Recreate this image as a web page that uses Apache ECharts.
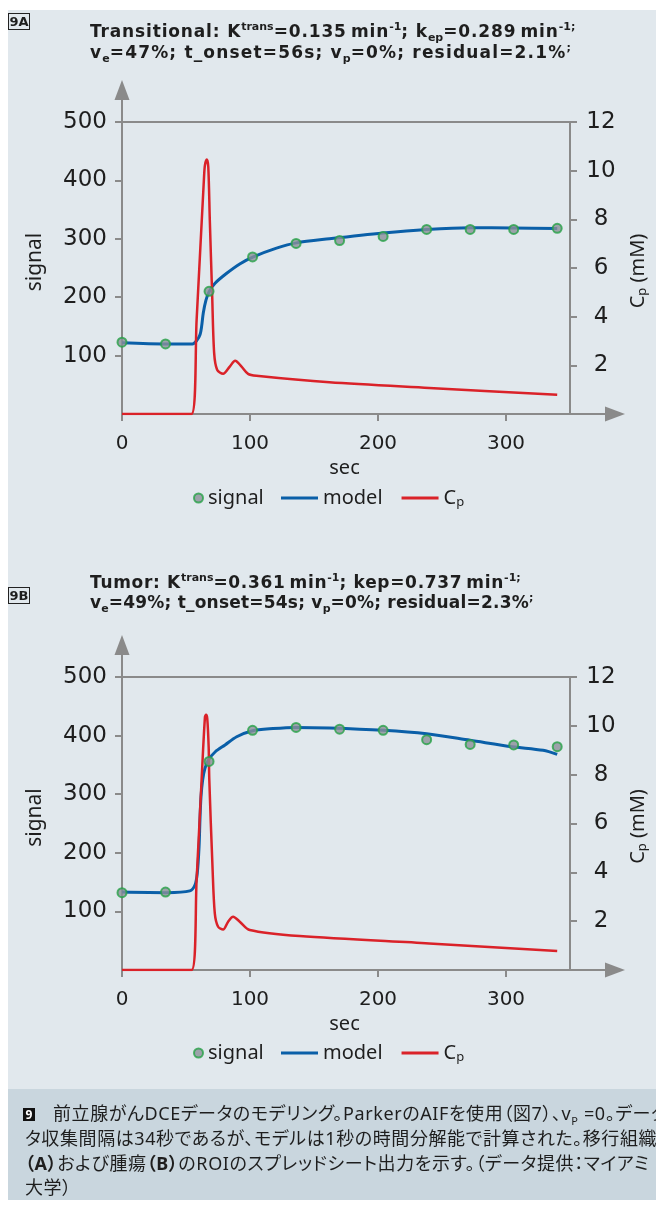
<!DOCTYPE html>
<html>
<head>
<meta charset="utf-8">
<script src="https://cdn.jsdelivr.net/npm/echarts@6/dist/echarts.min.js"></script>
<style>
  html, body { margin: 0; padding: 0; width: 656px; height: 1210px; overflow: hidden; background: #fff;
    font-family: "Noto Sans", "Noto Sans CJK JP", sans-serif; color: #1e1e1e; }
  .panel { position: absolute; left: 8px; top: 10px; width: 648px; height: 1079px; background: #e1e8ed; }
  .caption { position: absolute; left: 8px; top: 1089px; width: 648px; height: 111px; background: #c9d6de; }
  #chart { position: absolute; left: 0; top: 0; width: 656px; height: 1210px; }
  .tag { position: absolute; left: 8px; width: 22px; height: 17px; border: 1px solid #222; box-sizing: border-box;
    font-family: "DejaVu Sans"; font-weight: bold; font-size: 13px; line-height: 15px; text-align: center; }
  .title { position: absolute; left: 90px; font-family: "DejaVu Sans"; font-weight: bold; font-size: 17px;
    line-height: 22px; white-space: nowrap; }
  .title sup, .title sub { font-size: 11px; line-height: 0; letter-spacing: 0; }
  .cap { position: absolute; font-size: 18px; line-height: 24px; white-space: nowrap;
    font-feature-settings: "palt"; letter-spacing: 0.6px; }
  .cap sub { font-size: 11px; line-height: 0; }
  .num { display: inline-block; width: 12px; height: 13px; background: #111; color: #fff; font-weight: bold;
    font-size: 12px; line-height: 13px; text-align: center; vertical-align: 1px; margin-right: 18px; letter-spacing: 0; }
</style>
</head>
<body>
<div class="panel"></div>
<div class="caption"></div>
<div id="chart"></div>

<div class="tag" style="top:13px">9A</div>
<div class="title" style="top:20px;letter-spacing:0.84px">Transitional: K<sup>trans</sup>=0.135&thinsp;min<sup>-1</sup>; k<sub>ep</sub>=0.289&thinsp;min<sup>-1;</sup></div>
<div class="title" style="top:41px;letter-spacing:1.17px">v<sub>e</sub>=47%; t_onset=56s; v<sub>p</sub>=0%; residual=2.1%<sup>;</sup></div>

<div class="tag" style="top:587px">9B</div>
<div class="title" style="top:571px;letter-spacing:0.68px">Tumor: K<sup>trans</sup>=0.361&thinsp;min<sup>-1</sup>; kep=0.737&thinsp;min<sup>-1;</sup></div>
<div class="title" style="top:591px;letter-spacing:0.21px">v<sub>e</sub>=49%; t_onset=54s; v<sub>p</sub>=0%; residual=2.3%<sup>;</sup></div>

<div class="cap" style="left:23px;top:1101px"><span class="num">9</span>前立腺がんDCEデータのモデリング。ParkerのAIFを使用（図7）、v<sub>P</sub> =0。データ</div>
<div class="cap" style="left:25px;top:1126px">タ収集間隔は34秒であるが、モデルは1秒の時間分解能で計算された。移行組織</div>
<div class="cap" style="left:25px;top:1151px"><b>（A）</b>および腫瘍<b>（B）</b>のROIのスプレッドシート出力を示す。（データ提供：マイアミ</div>
<div class="cap" style="left:25px;top:1175px">大学）</div>

<script>
  // measured signal, one sample every 34 s
  const sampleSec = [0, 34, 68, 102, 136, 170, 204, 238, 272, 306, 340]
  const signalA = [123, 120, 210, 269, 292, 297, 304, 316, 316, 316, 318]
  const signalB = [132, 133, 356, 409, 414, 411, 409, 393, 385, 384, 381]

  // model curves
  const modelSecA = [0, 35, 55, 58.5, 61, 62.2, 63.5, 65.6, 68.2, 72.7, 81.8, 92, 102.6, 120.7, 136.3, 162, 204, 238, 272, 305, 340]
  const modelA = [122, 120, 120, 126, 136, 150, 173, 195, 210, 224, 241, 257, 269, 284, 293, 300, 310, 316, 319, 318.5, 317.5]
  const modelSecB = [0, 35, 53, 57, 58.8, 60.2, 60.9, 61.7, 63, 64.8, 67.4, 72.7, 80.5, 89.6, 101.3, 118, 136, 162, 204, 238, 272, 305, 329, 340]
  const modelB = [133, 132, 135, 145, 165, 210, 256, 295, 324, 344, 358, 372, 384, 398, 408, 412, 414, 413, 409, 403, 392, 381, 375, 368]

  // arterial input Cp (mM)
  const cpSecA = [0, 54.3, 58.3, 64.1, 64.8, 66.2, 67.4, 68.6, 70.4, 72, 74.3, 79, 84.2, 88.4, 93.4, 98.5, 105, 162, 240, 340]
  const cpA = [0, 0, 3.87, 9.75, 10.23, 10.46, 10.16, 7.97, 4.96, 2.5, 1.82, 1.65, 1.95, 2.19, 1.95, 1.65, 1.57, 1.3, 1.07, 0.79]
  const cpSecB = [0, 54.4, 58.3, 62.2, 64.8, 65.7, 66.6, 67.7, 68.2, 70.7, 72.5, 75.1, 79, 82.9, 86.8, 92, 99.8, 138.8, 240, 340]
  const cpB = [0, 0, 3.7, 7.8, 10.36, 10.45, 10.3, 9.14, 7.8, 4.23, 2.32, 1.77, 1.66, 1.98, 2.18, 1.98, 1.64, 1.39, 1.09, 0.78]

  const secTicks = [0, 100, 200, 300]
  const signalTicks = [100, 200, 300, 400, 500]
  const cpTicks = [2, 4, 6, 8, 10, 12]

  const axisGray = '#8a8a8a'
  const textColor = '#1e1e1e'
  const font = 'Noto Sans'
  const numFont = 'DejaVu Sans'
  const blue = '#0a5fa8'
  const red = '#da2229'

  // plot box in px; the outer axes run on to the arrow heads
  const plotLeft = 122
  const plotRight = 570
  const arrowEndX = 615
  const secEnd = 350
  const signalEnd = 500
  const cpEnd = 12
  const panels = [
    { top: 122, bottom: 414, arrowEndY: 90, legendTop: 488,
      sec: modelSecA, model: modelA, cpSec: cpSecA, cp: cpA, signal: signalA },
    { top: 677, bottom: 970, arrowEndY: 645, legendTop: 1043,
      sec: modelSecB, model: modelB, cpSec: cpSecB, cp: cpB, signal: signalB }
  ]

  const pair = (xs, ys) => xs.map((x, i) => [x, ys[i]])

  const rich = {
    m: { fontSize: 20, lineHeight: 22, color: textColor, fontFamily: font },
    s: { fontSize: 13, lineHeight: 10, verticalAlign: 'bottom', color: textColor, fontFamily: font }
  }
  const gridLine = { color: axisGray, width: 2 }
  const arrowLine = { show: true, onZero: false, lineStyle: gridLine, symbol: ['none', 'triangle'], symbolSize: [15, 20] }

  const grid = []
  const xAxis = []
  const yAxis = []
  const series = []
  const legend = []

  panels.forEach((p, i) => {
    const ratio = (p.bottom - p.arrowEndY) / (p.bottom - p.top)
    const outer = 2 * i
    const inner = 2 * i + 1

    // outer grid: signal axes with arrows
    grid.push({
      left: plotLeft, top: p.arrowEndY, width: arrowEndX - plotLeft, height: p.bottom - p.arrowEndY,
      containLabel: false, outerBoundsMode: 'none'
    })
    // inner grid: the plot box, carries the Cp axis and the top border
    grid.push({
      left: plotLeft, top: p.top, width: plotRight - plotLeft, height: p.bottom - p.top,
      containLabel: false, outerBoundsMode: 'none'
    })

    xAxis.push({
      gridIndex: outer, type: 'value', min: 0,
      max: secEnd * (arrowEndX - plotLeft) / (plotRight - plotLeft),
      axisLine: arrowLine,
      axisTick: { show: true, length: 7, customValues: secTicks, lineStyle: gridLine },
      axisLabel: { customValues: secTicks, fontSize: 20, color: textColor, fontFamily: numFont, margin: 20 },
      splitLine: { show: false },
      name: 'sec', nameLocation: 'middle', nameGap: 44, nameMoveOverlap: false,
      nameTextStyle: { fontSize: 20, color: textColor, fontFamily: font, padding: [0, 48, 0, 0] }
    })
    xAxis.push({
      gridIndex: inner, type: 'value', min: 0, max: secEnd, position: 'top',
      axisLine: { show: true, onZero: false, lineStyle: gridLine },
      axisTick: { show: false }, axisLabel: { show: false }, splitLine: { show: false }
    })

    yAxis.push({
      gridIndex: outer, type: 'value', min: 0, max: signalEnd * ratio, position: 'left',
      axisLine: arrowLine,
      axisTick: { show: true, length: 7, customValues: signalTicks, lineStyle: gridLine },
      axisLabel: { customValues: signalTicks, fontSize: 23, color: textColor, fontFamily: numFont, margin: 15 },
      splitLine: { show: false },
      name: 'signal', nameLocation: 'middle', nameGap: 76, nameMoveOverlap: false,
      nameTextStyle: { fontSize: 21, color: textColor, fontFamily: font, padding: [0, 20, 0, 0] }
    })
    yAxis.push({
      gridIndex: inner, type: 'value', min: 0, max: cpEnd, position: 'right',
      axisLine: { show: true, onZero: false, lineStyle: gridLine },
      axisTick: { show: true, length: 7, customValues: cpTicks, lineStyle: gridLine },
      axisLabel: { customValues: cpTicks, fontSize: 23, color: textColor, fontFamily: numFont, margin: 31, align: 'center' },
      splitLine: { show: false },
      name: '{m|C}{s|p}{m| (mM)}', nameLocation: 'middle', nameGap: 57, nameMoveOverlap: false,
      nameTextStyle: { rich, padding: [0, 6, 0, 0] }
    })

    series.push({
      name: 'model', type: 'line', xAxisIndex: outer, yAxisIndex: outer,
      data: pair(p.sec, p.model), symbol: 'none', smooth: 0.3,
      lineStyle: { color: blue, width: 3 }, itemStyle: { color: blue }
    })
    series.push({
      name: 'Cp', type: 'line', xAxisIndex: inner, yAxisIndex: inner,
      data: pair(p.cpSec, p.cp), symbol: 'none', smooth: 0.3,
      lineStyle: { color: red, width: 2.5 }, itemStyle: { color: red }
    })
    series.push({
      name: 'signal', type: 'scatter', xAxisIndex: outer, yAxisIndex: outer,
      data: pair(sampleSec, p.signal), symbolSize: 9, z: 5,
      itemStyle: { color: '#8b9099', borderColor: '#26a146', borderWidth: 2 }
    })

    const legendText = {
      formatter: (name) => (name === 'Cp' ? '{m|C}{s|p}' : '{m|' + name + '}'),
      textStyle: { rich }
    }
    legend.push({
      data: ['signal'], left: 193, top: p.legendTop, padding: 0,
      itemWidth: 9, itemHeight: 9, ...legendText
    })
    legend.push({
      data: ['model', 'Cp'], left: 281, top: p.legendTop, padding: 0,
      icon: 'rect', itemWidth: 37, itemHeight: 3, itemGap: 19, ...legendText
    })
  })

  const chart = echarts.init(document.getElementById('chart'), null, { renderer: 'canvas' })
  chart.setOption({
    animation: false,
    backgroundColor: 'transparent',
    textStyle: { fontFamily: font },
    grid, xAxis, yAxis, series, legend
  })
</script>
</body>
</html>
